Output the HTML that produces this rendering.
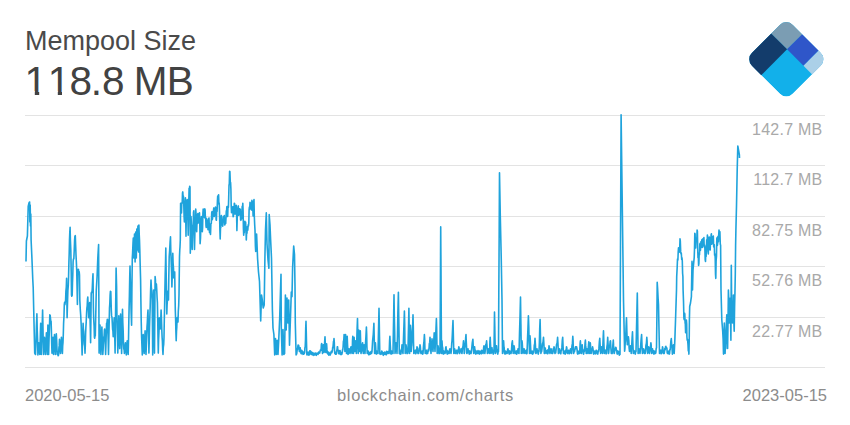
<!DOCTYPE html>
<html><head><meta charset="utf-8">
<style>
html,body{margin:0;padding:0;background:#fff;width:850px;height:425px;overflow:hidden;}
body{position:relative;font-family:"Liberation Sans",sans-serif;}
.t{position:absolute;white-space:nowrap;line-height:1;}
#title{left:25px;top:27.5px;font-size:27px;color:#4a4a4a;}
#value{left:24.5px;top:60.5px;font-size:40.5px;color:#424242;}
.yl{position:absolute;right:27.5px;font-size:16px;letter-spacing:0.25px;color:#a9a9a9;line-height:1;white-space:nowrap;}
.xl{position:absolute;top:386.5px;font-size:16.5px;color:#8c8c8c;line-height:1;white-space:nowrap;}
svg{position:absolute;left:0;top:0;}
</style></head><body>
<div class="t" id="title">Mempool Size</div>
<div class="t" id="value"><span style="margin-right:0.8px">1</span><span style="margin-right:-0.8px">1</span><span style="margin-right:-1.4px">8</span><span style="margin-right:0.1px">.</span><span style="margin-right:-2.2px">8</span> <span style="margin-right:-0.8px">M</span>B</div>
<svg width="850" height="425" viewBox="0 0 850 425">
<g stroke="#e3e3e3" stroke-width="1">
<line x1="25" x2="825" y1="115.5" y2="115.5"/>
<line x1="25" x2="825" y1="165.5" y2="165.5"/>
<line x1="25" x2="825" y1="216.5" y2="216.5"/>
<line x1="25" x2="825" y1="266.5" y2="266.5"/>
<line x1="25" x2="825" y1="317.5" y2="317.5"/>
<line x1="25" x2="825" y1="367.5" y2="367.5"/>
</g>
<path id="ln" d="M26.0 261.5 L26.4 241.0 L27.4 236.0 L28.2 206.5 L29.0 203.0 L29.6 202.0 L29.9 222.0 L30.2 205.0 L30.5 226.0 L30.8 214.0 L31.1 240.0 L31.9 257.6 L32.8 280.0 L33.2 287.5 L34.7 353.1 L35.5 354.5 L36.0 342.5 L36.4 325.9 L36.9 313.9 L37.2 329.1 L37.6 339.7 L37.9 354.9 L38.2 352.4 L38.5 345.3 L38.8 342.8 L39.1 348.2 L39.5 349.1 L39.8 354.5 L40.1 345.6 L40.4 332.2 L40.7 323.3 L41.0 340.4 L41.3 354.5 L41.7 338.2 L42.2 326.3 L42.6 310.0 L42.9 323.3 L43.2 341.2 L43.5 354.5 L43.8 347.3 L44.2 344.5 L44.5 337.3 L44.8 341.5 L45.1 350.3 L45.4 354.5 L45.7 345.7 L46.1 341.5 L46.4 332.7 L46.7 338.5 L47.0 348.7 L47.3 354.5 L47.6 338.2 L47.9 325.0 L48.2 341.2 L48.6 354.5 L49.0 339.8 L49.4 329.5 L49.8 314.8 L50.2 315.5 L50.7 320.7 L51.1 321.4 L51.4 330.5 L51.7 344.0 L52.0 353.1 L52.3 346.3 L52.7 344.1 L53.0 337.3 L53.5 354.5 L53.8 346.4 L54.2 342.7 L54.5 334.6 L54.8 339.7 L55.1 349.4 L55.4 354.5 L55.7 346.1 L56.0 342.1 L56.3 333.7 L56.6 339.1 L57.0 349.1 L57.3 354.5 L57.7 354.1 L58.2 355.8 L58.6 354.9 L58.9 348.2 L59.2 345.9 L59.5 339.2 L59.8 342.5 L60.2 350.2 L60.5 353.5 L60.8 346.6 L61.1 344.2 L61.4 337.3 L61.7 341.2 L62.1 349.6 L62.4 353.5 L62.7 345.7 L63.0 342.4 L63.3 334.6 L63.6 323.1 L64.0 316.0 L64.3 304.5 L64.6 302.4 L64.9 304.7 L65.2 302.6 L65.6 300.0 L65.9 291.3 L66.3 287.1 L66.6 278.4 L67.1 317.7 L67.6 300.0 L67.9 290.5 L68.3 285.5 L68.6 276.0 L68.9 262.5 L69.2 253.5 L69.5 240.0 L69.8 232.1 L70.1 227.2 L70.4 240.1 L70.8 250.0 L71.2 271.0 L71.5 295.0 L71.8 296.2 L72.2 295.3 L72.5 282.7 L72.8 274.6 L73.1 262.0 L73.4 259.0 L73.8 259.0 L74.2 251.0 L74.6 240.0 L74.9 236.3 L75.3 235.7 L75.7 246.8 L76.0 255.0 L76.3 260.8 L76.7 269.6 L77.1 288.6 L77.4 304.5 L77.9 272.0 L78.2 269.3 L78.5 269.6 L78.8 272.9 L79.2 271.7 L79.5 275.0 L79.8 300.0 L80.3 309.8 L80.7 315.2 L81.2 325.0 L81.5 336.5 L81.8 343.4 L82.1 354.9 L82.4 345.9 L82.8 332.3 L83.1 323.3 L83.4 329.5 L83.7 331.1 L84.0 337.3 L84.3 344.1 L84.7 346.3 L85.0 353.1 L85.3 345.9 L85.6 334.2 L85.9 327.0 L86.2 322.2 L86.6 312.8 L86.9 308.0 L87.2 305.8 L87.5 299.2 L87.8 297.0 L88.1 305.4 L88.4 309.3 L88.7 317.7 L89.0 314.2 L89.4 306.1 L89.7 302.6 L90.0 317.5 L90.3 327.9 L90.6 342.8 L90.9 319.4 L91.2 293.0 L91.6 292.1 L92.0 292.5 L92.3 287.7 L92.7 278.5 L93.0 273.7 L93.4 308.0 L93.7 319.3 L94.1 326.0 L94.4 337.3 L94.7 338.2 L95.0 335.4 L95.3 335.8 L95.6 322.0 L96.0 303.8 L96.3 290.0 L97.1 276.3 L97.8 258.2 L98.6 244.5 L99.1 353.1 L99.4 345.2 L99.7 332.9 L100.0 325.0 L100.3 336.3 L100.6 343.2 L100.9 354.5 L101.2 346.8 L101.6 334.7 L101.9 327.0 L102.2 337.7 L102.5 343.8 L102.8 354.5 L103.1 350.3 L103.5 341.5 L103.8 337.3 L104.1 336.0 L104.4 330.3 L104.7 329.0 L105.0 339.0 L105.3 344.5 L105.6 354.5 L105.9 345.6 L106.3 332.2 L106.6 323.3 L106.9 323.5 L107.3 319.3 L107.6 319.5 L107.9 332.7 L108.2 341.3 L108.5 354.5 L108.8 340.5 L109.2 322.0 L109.5 308.0 L109.8 303.9 L110.1 295.4 L110.4 291.3 L110.8 291.6 L111.3 310.0 L111.6 315.9 L112.0 317.4 L112.3 323.3 L112.6 329.3 L112.9 330.8 L113.2 336.8 L113.5 331.9 L113.9 322.6 L114.2 317.7 L114.5 331.0 L114.8 339.8 L115.1 353.1 L115.4 326.2 L115.8 294.9 L116.1 268.0 L116.6 287.0 L116.9 314.0 L117.2 328.5 L117.5 338.6 L117.8 353.1 L118.1 342.2 L118.5 326.7 L118.8 315.8 L119.1 328.2 L119.4 336.2 L119.7 348.6 L120.0 338.6 L120.3 324.0 L120.6 314.0 L120.9 328.7 L121.3 338.8 L121.6 353.5 L121.9 340.2 L122.2 322.5 L122.5 309.2 L122.8 322.6 L123.2 331.4 L123.5 344.8 L123.8 349.2 L124.1 349.1 L124.4 353.5 L124.7 351.4 L125.1 344.9 L125.4 342.8 L125.7 348.3 L126.0 349.4 L126.3 354.9 L126.6 351.7 L126.9 344.0 L127.2 340.8 L127.5 346.9 L127.9 348.4 L128.2 354.5 L128.5 340.6 L128.8 322.1 L129.1 308.2 L129.4 295.6 L129.7 278.6 L130.0 266.0 L130.3 278.8 L130.5 287.2 L130.8 300.0 L131.2 314.1 L131.6 325.2 L131.9 290.1 L132.3 258.0 L132.6 252.8 L133.0 243.2 L133.3 238.0 L133.8 258.0 L134.2 247.5 L134.5 234.0 L134.8 246.5 L135.1 262.0 L135.4 248.5 L135.7 232.0 L136.0 243.5 L136.3 258.0 L136.8 229.0 L137.1 241.0 L137.4 250.0 L137.9 226.0 L138.2 237.5 L138.5 252.0 L138.9 225.0 L139.2 234.0 L139.5 240.0 L139.8 249.5 L140.1 262.0 L140.6 280.0 L140.9 301.5 L141.2 320.0 L141.6 337.3 L141.9 344.6 L142.3 354.9 L142.6 349.6 L142.9 339.9 L143.2 334.6 L143.5 342.4 L143.9 345.7 L144.2 353.5 L144.5 347.4 L144.8 336.9 L145.1 330.8 L145.4 340.2 L145.7 345.1 L146.0 354.5 L146.3 346.8 L146.7 334.7 L147.0 327.0 L147.3 322.8 L147.7 314.2 L148.0 310.0 L148.3 325.9 L148.6 337.2 L148.9 353.1 L149.2 342.8 L149.5 328.0 L149.8 317.7 L150.2 306.6 L150.6 291.1 L151.0 280.0 L151.4 288.2 L151.8 291.8 L152.2 300.0 L152.7 354.9 L153.0 334.8 L153.3 310.1 L153.6 290.0 L153.9 312.5 L154.2 330.6 L154.5 353.1 L154.8 316.3 L155.1 276.5 L155.4 279.5 L155.7 287.0 L156.0 290.0 L156.4 284.0 L156.7 288.7 L157.1 297.9 L157.4 302.6 L157.7 317.9 L158.0 337.8 L158.3 353.1 L158.6 339.8 L159.0 331.0 L159.3 317.7 L159.6 320.0 L159.9 326.7 L160.2 329.0 L160.5 321.2 L160.8 317.8 L161.1 310.0 L161.4 317.6 L161.8 329.7 L162.1 337.3 L162.4 341.5 L162.7 350.3 L163.0 354.5 L163.3 347.3 L163.7 344.5 L164.0 337.3 L164.3 320.0 L164.6 307.3 L164.9 290.0 L165.2 274.5 L165.5 263.5 L165.8 248.0 L166.1 268.5 L166.5 293.5 L166.8 314.0 L167.1 304.9 L167.4 300.4 L167.7 291.3 L168.0 292.7 L168.2 298.6 L168.5 300.0 L168.8 276.8 L169.2 256.5 L169.6 251.4 L170.1 241.8 L170.5 236.7 L170.8 250.8 L171.2 262.0 L171.6 273.0 L171.9 287.0 L172.2 277.2 L172.5 263.0 L172.8 253.2 L173.1 263.0 L173.5 268.2 L173.8 278.0 L174.1 277.5 L174.4 272.5 L174.7 272.0 L175.0 292.5 L175.3 310.0 L175.6 318.8 L175.9 332.0 L176.2 340.8 L176.5 331.6 L176.8 326.9 L177.1 317.7 L177.4 317.6 L177.7 322.1 L178.0 322.0 L178.3 311.5 L178.7 305.5 L179.0 295.0 L179.5 256.5 L179.8 249.5 L180.0 247.0 L180.3 240.0 L180.6 203.3 L181.5 213.0 L181.8 202.8 L182.2 203.2 L182.5 193.0 L182.8 191.9 L183.1 198.1 L183.4 196.0 L183.7 201.2 L184.1 216.8 L184.4 222.0 L184.7 210.4 L185.1 209.3 L185.4 197.7 L185.7 213.5 L186.0 236.3 L186.3 216.5 L186.6 214.3 L186.9 201.7 L187.2 199.5 L187.5 214.9 L187.9 219.9 L188.2 235.3 L188.5 223.1 L188.8 200.4 L189.1 188.2 L189.4 190.3 L189.7 186.2 L190.0 187.3 L190.3 253.2 L190.7 238.3 L191.0 216.5 L191.4 224.0 L191.8 242.0 L192.2 249.5 L192.6 234.2 L192.9 226.0 L193.2 224.4 L193.5 212.4 L193.8 210.8 L194.2 233.7 L194.5 249.5 L194.9 232.5 L195.3 226.0 L195.7 209.0 L196.0 213.0 L196.4 227.6 L196.7 231.6 L197.0 222.4 L197.3 223.8 L197.6 214.6 L197.9 213.6 L198.2 223.0 L198.5 222.0 L198.8 215.4 L199.2 219.3 L199.5 212.7 L199.8 224.8 L200.1 243.8 L200.5 238.2 L201.0 222.1 L201.4 216.5 L201.7 225.0 L202.0 223.1 L202.3 231.6 L202.6 227.6 L202.9 213.0 L203.2 209.0 L203.5 214.8 L203.9 210.2 L204.2 216.0 L204.5 217.5 L204.8 208.9 L205.1 210.0 L205.4 218.8 L205.7 217.2 L206.0 226.0 L206.3 227.5 L206.7 218.9 L207.0 220.0 L207.3 226.7 L207.7 223.0 L208.0 229.7 L208.3 229.3 L208.7 218.4 L209.0 218.0 L209.5 232.5 L209.8 224.0 L210.2 232.7 L210.5 234.4 L210.9 223.7 L211.3 223.4 L211.7 212.7 L212.0 211.6 L212.3 219.7 L212.6 218.0 L212.9 211.5 L213.3 215.5 L213.6 209.0 L213.9 207.9 L214.2 216.5 L214.5 215.0 L214.8 208.8 L215.2 213.2 L215.5 207.0 L215.8 207.9 L216.1 219.4 L216.4 220.3 L216.7 210.5 L217.1 211.2 L217.4 201.4 L217.7 196.0 L218.0 201.2 L218.3 195.8 L218.6 194.8 L218.9 204.1 L219.2 203.0 L219.5 211.5 L219.9 230.5 L220.2 239.0 L220.5 228.0 L220.8 227.5 L221.1 216.5 L221.4 215.5 L221.7 225.0 L222.0 224.0 L222.3 220.9 L222.7 226.1 L223.0 222.0 L223.3 216.7 L223.7 221.8 L224.0 216.5 L224.3 215.5 L224.7 225.0 L225.0 224.0 L225.3 218.5 L225.7 223.5 L226.0 218.0 L226.3 210.8 L226.5 214.2 L226.8 207.0 L227.1 206.5 L227.4 216.5 L227.7 216.0 L228.0 206.4 L228.4 207.3 L228.7 197.7 L229.0 185.4 L229.3 183.6 L229.6 171.3 L229.9 171.6 L230.3 182.3 L230.6 182.6 L230.9 189.1 L231.2 206.2 L231.5 212.7 L231.8 207.3 L232.2 212.4 L232.5 207.0 L232.8 206.7 L233.1 216.8 L233.4 216.5 L233.7 208.6 L234.0 211.2 L234.3 203.3 L234.6 203.4 L234.9 213.9 L235.2 214.0 L235.5 207.6 L235.9 211.6 L236.2 205.2 L236.6 214.4 L236.9 230.6 L237.3 216.0 L237.7 215.0 L238.0 207.0 L238.3 205.9 L238.7 215.2 L239.0 214.0 L239.3 208.8 L239.7 214.2 L240.0 209.0 L240.3 209.3 L240.6 220.0 L240.9 220.3 L241.2 214.4 L241.6 218.9 L241.9 213.0 L242.2 206.3 L242.5 210.0 L242.8 203.3 L243.1 210.5 L243.4 228.1 L243.7 235.3 L244.0 228.7 L244.3 232.6 L244.6 226.0 L244.9 221.2 L245.3 226.8 L245.6 222.0 L245.9 227.5 L246.3 240.0 L246.7 231.0 L247.0 233.1 L247.2 226.9 L247.5 228.0 L247.8 230.1 L248.2 224.9 L248.5 226.0 L248.8 223.2 L249.1 209.8 L249.4 207.0 L249.7 209.1 L250.0 202.2 L250.3 203.3 L250.6 208.7 L250.9 203.6 L251.2 209.0 L251.5 210.0 L251.9 200.4 L252.2 201.4 L252.5 209.8 L252.8 207.6 L253.1 216.0 L253.4 214.0 L253.7 201.5 L254.0 199.5 L254.3 215.8 L254.7 225.0 L255.0 230.3 L255.4 246.1 L255.7 251.4 L256.6 234.0 L257.6 259.0 L258.5 272.0 L259.5 281.5 L260.7 321.0 L261.5 295.0 L262.3 300.0 L263.2 308.0 L264.2 305.0 L264.9 258.2 L265.5 230.0 L266.3 212.7 L267.0 243.8 L268.0 260.0 L268.9 268.3 L269.2 214.6 L270.0 225.0 L270.6 239.4 L271.5 258.2 L272.4 310.0 L273.0 328.0 L273.9 334.5 L274.7 354.9 L275.5 338.6 L276.4 354.5 L277.2 340.2 L278.0 354.5 L278.8 338.6 L279.7 318.0 L280.5 290.0 L281.0 274.3 L281.3 328.0 L282.1 354.9 L283.0 329.5 L283.8 354.5 L284.6 353.5 L285.4 295.0 L286.2 330.0 L287.0 298.0 L287.9 323.0 L288.7 300.0 L289.5 345.2 L290.4 319.7 L291.3 292.0 L292.0 296.6 L292.6 267.7 L293.7 246.0 L294.5 254.5 L295.0 286.5 L295.3 323.0 L296.1 354.9 L296.4 352.5 L296.7 353.9 L297.0 351.5 L297.3 348.6 L297.5 349.7 L297.8 346.8 L298.1 345.0 L298.3 347.0 L298.6 345.2 L299.0 347.1 L299.4 351.5 L299.7 351.6 L299.9 347.7 L300.2 347.8 L300.5 351.0 L300.7 350.3 L301.0 353.5 L301.3 353.8 L301.6 350.2 L301.9 350.5 L302.2 352.8 L302.4 351.2 L302.7 353.5 L303.0 354.3 L303.2 352.1 L303.5 352.5 L303.8 354.1 L304.0 352.1 L304.3 353.5 L304.6 352.6 L304.9 347.7 L305.2 346.8 L305.5 339.6 L305.7 328.5 L306.0 321.3 L306.3 333.5 L306.5 341.9 L306.8 354.1 L307.1 354.9 L307.4 352.1 L307.7 352.5 L308.0 354.1 L308.2 352.1 L308.5 353.5 L308.8 355.1 L309.0 353.1 L309.3 354.5 L309.6 354.6 L309.8 350.7 L310.1 350.8 L310.4 353.0 L310.7 351.3 L311.0 353.5 L311.3 354.3 L311.5 352.1 L311.8 352.5 L312.1 354.5 L312.3 352.5 L312.6 354.5 L313.2 355.3 L313.7 353.1 L314.3 353.5 L314.8 355.1 L315.4 353.1 L315.9 354.5 L316.4 355.3 L317.0 353.1 L317.5 353.5 L318.1 354.3 L318.6 352.1 L319.2 352.5 L319.7 353.1 L320.3 350.1 L320.8 350.5 L321.1 349.5 L321.4 344.5 L321.7 343.5 L322.0 348.1 L322.2 348.9 L322.5 353.5 L322.8 351.9 L323.0 346.4 L323.3 344.8 L323.6 348.7 L323.8 348.6 L324.1 352.5 L324.4 348.6 L324.7 340.7 L325.0 336.8 L325.3 343.3 L325.5 346.0 L325.8 352.5 L326.1 350.9 L326.3 345.4 L326.6 343.8 L327.0 349.9 L327.4 353.5 L327.7 352.1 L328.0 354.1 L328.3 352.5 L328.6 352.1 L328.8 355.1 L329.1 354.5 L329.6 353.1 L330.2 355.1 L330.7 353.5 L331.3 351.2 L331.8 352.8 L332.4 350.5 L332.7 347.3 L332.9 348.0 L333.2 344.8 L333.5 341.4 L333.7 342.0 L334.0 338.6 L334.3 342.3 L334.5 349.8 L334.8 353.5 L335.1 352.1 L335.4 354.1 L335.7 352.5 L336.0 352.1 L336.2 354.3 L336.5 353.5 L336.8 350.0 L337.0 350.3 L337.3 346.8 L337.6 346.7 L337.8 350.6 L338.1 350.5 L338.4 350.2 L338.7 353.8 L339.0 353.5 L339.3 351.2 L339.5 352.8 L339.8 350.5 L340.1 350.5 L340.3 354.5 L340.6 354.5 L341.2 352.5 L341.7 354.5 L342.3 352.5 L342.6 349.3 L342.8 350.0 L343.1 346.8 L343.4 341.4 L343.8 340.0 L344.1 334.6 L344.5 341.8 L344.9 351.5 L345.2 344.4 L345.6 334.6 L345.9 339.6 L346.2 348.5 L346.5 353.5 L346.9 343.7 L347.2 336.4 L347.5 343.7 L347.7 347.2 L348.0 354.5 L348.3 353.9 L348.7 349.4 L349.0 348.8 L349.3 351.7 L349.7 350.6 L350.0 353.5 L350.3 352.6 L350.7 347.7 L351.0 346.8 L351.3 350.3 L351.7 350.0 L352.0 353.5 L352.3 349.1 L352.5 340.8 L352.8 336.4 L353.1 346.3 L353.5 353.5 L353.8 344.1 L354.1 337.3 L354.5 345.7 L354.8 351.5 L355.1 344.8 L355.4 340.8 L355.7 346.3 L356.0 348.0 L356.3 353.5 L356.7 343.2 L357.1 328.9 L357.5 318.6 L357.9 337.4 L358.2 353.5 L358.5 340.4 L358.8 330.0 L359.1 338.5 L359.3 343.0 L359.6 351.5 L360.0 342.4 L360.3 330.8 L360.6 340.8 L361.0 353.5 L361.5 351.2 L362.1 345.1 L362.6 342.8 L363.0 349.4 L363.3 353.5 L363.6 349.3 L363.8 349.0 L364.1 344.8 L364.4 346.4 L364.7 351.9 L365.0 353.5 L365.5 343.4 L365.9 337.1 L366.4 327.0 L366.7 334.5 L366.9 346.0 L367.2 353.5 L367.5 351.5 L367.7 353.5 L368.0 351.5 L368.4 351.2 L368.8 354.8 L369.2 354.5 L369.6 353.0 L369.9 352.6 L370.2 354.3 L370.5 353.5 L371.0 351.5 L371.5 353.5 L372.0 351.5 L372.6 340.8 L373.3 334.0 L373.9 323.3 L374.2 337.1 L374.6 353.5 L375.0 349.4 L375.4 342.8 L375.7 346.8 L376.0 353.5 L376.3 354.1 L376.7 351.1 L377.0 351.5 L377.3 353.5 L377.7 351.5 L378.0 353.5 L378.3 339.7 L378.7 322.0 L379.0 308.2 L379.3 324.6 L379.5 337.1 L379.8 353.5 L380.2 354.3 L380.6 353.1 L381.0 353.5 L381.3 354.1 L381.7 351.1 L382.0 351.5 L382.3 353.8 L382.7 352.2 L383.0 354.5 L383.3 355.3 L383.7 353.1 L384.0 353.5 L384.3 354.3 L384.7 352.1 L385.0 352.5 L385.3 354.5 L385.7 352.5 L386.0 354.5 L386.3 354.8 L386.7 351.2 L387.0 351.5 L387.7 353.5 L388.3 351.5 L389.0 353.5 L389.3 349.1 L389.6 340.8 L389.9 336.4 L390.2 343.4 L390.4 346.5 L390.7 353.5 L391.1 354.1 L391.6 351.1 L392.0 351.5 L392.3 353.5 L392.7 351.5 L393.0 353.5 L393.3 335.2 L393.7 313.0 L394.0 294.7 L394.3 315.6 L394.7 332.6 L395.0 353.5 L395.3 351.2 L395.7 345.1 L396.0 342.8 L396.3 347.7 L396.7 348.6 L397.0 353.5 L397.5 334.4 L397.9 311.3 L398.4 292.2 L398.7 313.9 L399.0 331.8 L399.3 353.5 L399.6 353.8 L400.0 351.5 L400.3 351.1 L400.7 354.1 L401.0 353.5 L401.3 349.3 L401.7 349.0 L402.0 344.8 L402.3 346.4 L402.7 351.9 L403.0 353.5 L403.5 338.0 L403.9 326.5 L404.4 311.0 L404.7 323.9 L404.9 340.6 L405.2 353.5 L405.5 349.3 L405.7 349.0 L406.0 344.8 L406.3 346.4 L406.7 351.9 L407.0 353.5 L407.3 351.5 L407.7 353.5 L408.0 351.5 L408.3 335.8 L408.6 323.9 L408.9 308.2 L409.2 329.6 L409.6 353.5 L410.0 340.7 L410.4 325.2 L410.7 332.7 L410.9 344.0 L411.2 351.5 L411.5 346.6 L411.7 345.7 L412.0 340.8 L412.3 330.8 L412.7 324.8 L413.0 314.8 L413.3 326.4 L413.5 341.9 L413.8 353.5 L414.2 351.2 L414.6 352.8 L415.0 350.5 L415.3 350.2 L415.7 353.8 L416.0 353.5 L416.3 350.0 L416.7 350.3 L417.0 346.8 L417.3 347.7 L417.7 352.6 L418.0 353.5 L418.3 351.5 L418.7 353.5 L419.0 351.5 L419.3 348.0 L419.7 348.3 L420.0 344.8 L420.3 346.4 L420.7 351.9 L421.0 353.5 L421.3 351.5 L421.7 353.5 L422.0 351.5 L422.3 351.1 L422.7 354.1 L423.0 353.5 L423.5 345.9 L423.9 342.2 L424.4 334.6 L424.7 339.6 L424.9 348.5 L425.2 353.5 L425.5 351.2 L425.7 352.8 L426.0 350.5 L426.3 350.2 L426.7 353.8 L427.0 353.5 L427.3 351.5 L427.7 353.5 L428.0 351.5 L428.3 349.3 L428.7 351.0 L429.0 348.8 L429.3 343.7 L429.7 342.4 L430.0 337.3 L430.3 341.4 L430.7 349.4 L431.0 353.5 L431.3 347.3 L431.7 345.0 L432.0 338.8 L432.3 341.7 L432.7 348.6 L433.0 351.5 L433.4 343.9 L433.8 340.3 L434.2 332.7 L434.5 337.7 L434.7 346.5 L435.0 351.5 L435.5 339.2 L435.9 330.9 L436.4 318.6 L436.7 328.9 L436.9 343.2 L437.2 353.5 L437.5 349.6 L437.7 349.7 L438.0 345.8 L438.3 347.1 L438.7 352.2 L439.0 353.5 L439.3 351.5 L439.7 353.5 L440.0 351.5 L440.4 287.9 L440.7 226.9 L441.0 270.4 L441.2 310.0 L441.5 353.5 L442.0 340.8 L442.3 346.3 L442.7 348.0 L443.0 353.5 L443.3 354.1 L443.7 351.1 L444.0 351.5 L444.3 353.5 L444.7 351.5 L445.0 353.5 L445.3 352.6 L445.7 347.7 L446.0 346.8 L446.3 350.3 L446.7 350.0 L447.0 353.5 L447.3 354.1 L447.7 351.1 L448.0 351.5 L448.3 353.5 L448.7 351.5 L449.0 353.5 L449.3 353.2 L449.7 349.1 L450.0 348.8 L450.3 351.7 L450.7 350.6 L451.0 353.5 L451.3 350.6 L451.7 343.7 L452.0 340.8 L452.3 335.3 L452.7 326.0 L453.0 320.5 L453.3 332.8 L453.5 341.2 L453.8 353.5 L454.1 352.4 L454.5 348.8 L454.8 349.1 L455.2 353.2 L455.5 353.5 L455.8 351.2 L456.2 352.8 L456.5 350.5 L456.8 350.2 L457.2 353.8 L457.5 353.5 L457.9 350.0 L458.4 350.3 L458.8 346.8 L459.1 347.7 L459.3 352.6 L459.6 353.5 L460.1 350.6 L460.5 351.7 L461.0 348.8 L461.3 349.1 L461.7 353.2 L462.0 353.5 L462.5 348.0 L463.0 346.3 L463.5 340.8 L463.9 345.8 L464.2 353.5 L464.5 352.6 L464.7 347.7 L465.0 346.8 L465.3 344.0 L465.7 337.4 L466.0 334.6 L466.3 342.2 L466.5 345.9 L466.8 353.5 L467.2 353.2 L467.6 349.1 L468.0 348.8 L468.3 351.7 L468.7 350.6 L469.0 353.5 L469.3 354.1 L469.7 351.1 L470.0 351.5 L470.3 353.5 L470.7 351.5 L471.0 353.5 L471.6 350.0 L472.3 342.7 L472.9 339.2 L473.2 345.3 L473.4 347.4 L473.7 353.5 L474.0 352.6 L474.3 347.7 L474.6 346.8 L474.9 350.3 L475.2 350.0 L475.5 353.5 L475.8 354.1 L476.2 351.1 L476.5 351.5 L476.9 353.5 L477.2 351.5 L477.6 353.5 L478.0 350.5 L478.3 352.8 L478.7 351.2 L479.0 353.5 L479.3 354.1 L479.7 351.1 L480.0 351.5 L480.3 353.5 L480.7 351.5 L481.0 353.5 L481.3 353.8 L481.7 350.2 L482.0 350.5 L482.3 352.8 L482.7 351.2 L483.0 353.5 L483.3 352.2 L483.7 347.1 L484.0 345.8 L484.3 349.7 L484.5 349.6 L484.8 353.5 L485.1 351.9 L485.5 347.8 L485.9 344.2 L486.2 344.4 L486.6 340.8 L487.0 345.8 L487.4 353.5 L487.7 353.2 L488.1 349.1 L488.4 348.8 L488.7 351.7 L489.1 350.6 L489.4 353.5 L489.7 349.4 L489.9 341.4 L490.2 337.3 L490.5 344.0 L490.7 346.8 L491.0 353.5 L491.3 352.9 L491.7 348.4 L492.0 347.8 L492.3 351.0 L492.7 350.3 L493.0 353.5 L493.3 354.1 L493.7 351.1 L494.0 351.5 L494.5 312.0 L494.8 327.1 L495.0 338.4 L495.3 353.5 L495.7 352.2 L496.1 347.1 L496.5 345.8 L496.8 349.7 L497.2 349.6 L497.5 353.5 L497.8 354.1 L498.2 351.1 L498.5 351.5 L498.8 293.2 L499.2 231.1 L499.5 172.8 L500.3 216.5 L501.2 256.3 L502.0 300.0 L502.5 353.5 L502.9 350.6 L503.2 343.7 L503.6 340.8 L503.9 346.3 L504.2 348.0 L504.5 353.5 L505.0 354.1 L505.5 351.1 L506.0 351.5 L506.3 353.5 L506.7 351.5 L507.0 353.5 L507.3 353.2 L507.7 349.1 L508.0 348.8 L508.3 351.7 L508.7 350.6 L509.0 353.5 L509.3 354.1 L509.7 351.1 L510.0 351.5 L510.3 353.5 L510.7 351.5 L511.0 353.5 L511.5 350.6 L511.9 343.7 L512.4 340.8 L512.7 346.3 L512.9 348.0 L513.2 353.5 L513.6 350.9 L514.0 345.8 L514.3 347.1 L514.7 352.2 L515.0 353.5 L515.3 351.5 L515.7 353.5 L516.0 351.5 L516.3 351.1 L516.7 354.1 L517.0 353.5 L517.3 350.6 L517.7 351.7 L518.0 348.8 L518.3 349.1 L518.7 353.2 L519.0 353.5 L519.5 333.4 L520.0 317.1 L520.5 297.0 L520.9 323.9 L521.3 353.5 L521.6 348.4 L522.0 340.8 L522.3 343.7 L522.7 350.6 L523.0 353.5 L523.3 350.6 L523.7 351.7 L524.0 348.8 L524.3 349.1 L524.7 353.2 L525.0 353.5 L525.3 351.2 L525.7 352.8 L526.0 350.5 L526.3 350.2 L526.7 353.8 L527.0 353.5 L527.5 339.6 L527.9 329.7 L528.4 315.8 L528.8 327.1 L529.1 342.2 L529.5 353.5 L530.0 335.8 L530.3 340.4 L530.7 348.9 L531.0 353.5 L531.3 351.5 L531.7 353.5 L532.0 351.5 L532.3 351.1 L532.7 354.1 L533.0 353.5 L533.3 351.2 L533.7 352.8 L534.0 350.5 L534.3 345.1 L534.7 343.6 L535.0 338.2 L535.4 344.6 L535.8 353.5 L536.2 353.2 L536.6 349.1 L537.0 348.8 L537.3 351.7 L537.7 350.6 L538.0 353.5 L538.3 354.1 L538.7 351.1 L539.0 351.5 L539.4 342.1 L539.7 328.9 L540.1 319.5 L540.5 337.8 L540.9 353.5 L541.3 350.6 L541.6 351.7 L542.0 348.8 L542.5 343.7 L543.0 342.4 L543.5 337.3 L543.9 344.1 L544.3 353.5 L544.6 351.9 L545.0 347.8 L545.3 348.4 L545.7 352.9 L546.0 353.5 L546.3 351.2 L546.7 352.8 L547.0 350.5 L547.3 350.2 L547.7 353.8 L548.0 353.5 L548.3 349.6 L548.7 349.7 L549.0 345.8 L549.3 347.1 L549.7 352.2 L550.0 353.5 L550.3 350.6 L550.7 351.7 L551.0 348.8 L551.3 349.1 L551.7 353.2 L552.0 353.5 L552.3 351.5 L552.7 353.5 L553.0 351.5 L553.3 348.6 L553.7 349.7 L554.0 346.8 L554.3 347.7 L554.7 352.6 L555.0 353.5 L555.3 351.2 L555.7 352.8 L556.0 350.5 L556.5 344.8 L557.1 343.0 L557.6 337.3 L558.0 344.1 L558.4 353.5 L558.8 353.2 L559.1 349.1 L559.5 348.8 L559.8 351.7 L560.2 350.6 L560.5 353.5 L560.8 353.8 L561.2 350.2 L561.5 350.5 L561.9 347.4 L562.3 340.4 L562.7 337.3 L563.1 346.7 L563.5 353.5 L563.8 351.5 L564.2 353.5 L564.5 351.5 L564.8 351.1 L565.2 354.1 L565.5 353.5 L565.8 350.0 L566.2 350.3 L566.5 346.8 L566.8 347.7 L567.2 352.6 L567.5 353.5 L567.8 351.2 L568.2 352.8 L568.5 350.5 L568.8 350.2 L569.2 353.8 L569.5 353.5 L569.8 350.6 L570.2 351.7 L570.5 348.8 L570.8 349.1 L571.2 353.2 L571.5 353.5 L571.9 346.5 L572.4 343.4 L572.8 336.4 L573.1 340.8 L573.3 349.1 L573.6 353.5 L574.1 350.6 L574.5 351.7 L575.0 348.8 L575.5 346.8 L576.1 348.8 L576.6 346.8 L577.0 348.8 L577.4 353.5 L577.8 354.1 L578.1 351.1 L578.5 351.5 L578.8 353.5 L579.2 351.5 L579.5 353.5 L579.8 350.6 L580.1 343.7 L580.4 340.8 L580.7 346.3 L580.9 348.0 L581.2 353.5 L581.5 351.9 L581.9 346.4 L582.2 344.8 L582.5 349.0 L582.9 349.3 L583.2 353.5 L583.6 354.1 L584.0 351.1 L584.4 351.5 L584.7 349.0 L585.1 342.6 L585.4 340.1 L585.7 345.9 L585.9 347.7 L586.2 353.5 L586.6 352.4 L587.0 348.8 L587.3 349.1 L587.7 353.2 L588.0 353.5 L588.4 346.3 L588.8 341.8 L589.1 347.0 L589.3 348.3 L589.6 353.5 L590.0 349.4 L590.3 342.8 L590.6 346.8 L591.0 353.5 L591.3 353.2 L591.7 349.1 L592.0 348.8 L592.3 349.1 L592.6 346.8 L593.0 348.8 L593.4 353.5 L593.7 354.1 L594.1 351.1 L594.4 351.5 L594.7 353.5 L595.1 351.5 L595.4 353.5 L595.8 353.8 L596.1 350.2 L596.5 350.5 L596.8 352.8 L597.2 351.2 L597.5 353.5 L597.8 354.1 L598.2 351.1 L598.5 351.5 L598.9 348.4 L599.4 341.3 L599.8 338.2 L600.1 344.6 L600.3 347.1 L600.6 353.5 L600.9 352.6 L601.2 347.7 L601.5 346.8 L601.8 350.3 L602.2 350.0 L602.5 353.5 L602.8 347.2 L603.2 337.1 L603.5 330.8 L603.9 343.4 L604.3 353.5 L604.6 351.2 L605.0 352.8 L605.3 350.5 L605.7 350.2 L606.1 353.8 L606.5 353.5 L606.9 346.8 L607.3 344.0 L607.7 337.3 L608.1 344.1 L608.5 353.5 L608.8 352.2 L609.2 347.1 L609.5 345.8 L609.8 345.4 L610.2 341.2 L610.5 340.8 L610.9 348.4 L611.3 353.5 L611.7 351.5 L612.1 353.5 L612.5 351.5 L612.9 344.5 L613.3 340.1 L613.6 345.9 L613.8 347.7 L614.1 353.5 L614.4 353.2 L614.7 349.1 L615.0 348.8 L615.4 349.6 L615.7 347.4 L616.1 347.8 L616.4 351.0 L616.7 350.3 L617.0 353.5 L617.3 354.1 L617.7 351.1 L618.0 351.5 L618.3 353.5 L618.7 351.5 L619.0 353.5 L619.3 355.1 L619.7 353.1 L620.0 354.5 L621.1 114.8 L623.5 300.0 L624.6 351.2 L624.9 349.0 L625.2 343.0 L625.5 340.8 L625.8 334.4 L626.2 324.1 L626.5 317.7 L626.9 332.6 L627.3 344.8 L627.7 340.8 L628.0 340.8 L628.4 336.8 L628.8 340.4 L629.1 347.9 L629.5 351.5 L629.8 348.3 L630.2 349.0 L630.5 345.8 L630.9 348.3 L631.2 353.5 L631.6 347.6 L632.1 337.7 L632.5 331.8 L632.9 343.9 L633.3 353.5 L633.6 350.7 L634.0 350.5 L634.3 352.8 L634.7 351.2 L635.0 353.5 L635.3 354.1 L635.7 351.1 L636.0 351.5 L636.4 333.3 L636.9 311.2 L637.3 293.0 L637.6 314.5 L637.8 332.0 L638.1 353.5 L638.4 353.2 L638.7 349.1 L639.0 348.8 L639.3 351.7 L639.7 350.6 L640.0 353.5 L640.5 348.5 L641.1 339.6 L641.6 334.6 L642.0 345.4 L642.4 353.5 L642.7 350.6 L643.1 351.7 L643.4 348.8 L643.8 349.1 L644.1 353.2 L644.5 353.5 L644.8 351.5 L645.2 353.5 L645.5 351.5 L645.9 345.5 L646.4 343.3 L646.8 337.3 L647.1 341.4 L647.3 349.4 L647.6 353.5 L647.9 350.0 L648.3 350.3 L648.6 346.8 L648.9 347.7 L649.2 352.6 L649.5 353.5 L650.0 348.6 L650.4 347.7 L650.9 342.8 L651.2 345.1 L651.4 351.2 L651.7 353.5 L652.1 349.8 L652.5 348.8 L652.8 351.7 L653.2 350.6 L653.5 353.5 L653.9 354.1 L654.2 351.1 L654.6 351.5 L654.9 353.5 L655.2 351.5 L655.5 353.5 L655.8 352.9 L656.2 348.4 L656.5 347.8 L656.9 316.4 L657.2 282.3 L657.6 288.4 L658.1 298.4 L658.5 304.5 L658.8 319.5 L659.2 338.5 L659.5 353.5 L659.8 351.2 L660.2 352.8 L660.5 350.5 L660.8 350.2 L661.2 353.8 L661.5 353.5 L661.8 350.0 L662.2 350.3 L662.5 346.8 L662.8 347.7 L663.2 352.6 L663.5 353.5 L663.8 351.5 L664.2 353.5 L664.5 351.5 L664.8 348.6 L665.2 349.7 L665.5 346.8 L665.9 346.4 L666.2 348.4 L666.6 347.6 L666.9 348.3 L667.2 352.8 L667.5 353.5 L667.8 351.5 L668.1 353.5 L668.4 351.5 L668.8 351.1 L669.2 354.1 L669.6 353.5 L669.9 349.6 L670.2 349.7 L670.5 345.8 L670.9 340.9 L671.3 338.6 L671.7 345.1 L672.0 347.6 L672.4 354.1 L672.7 352.3 L673.1 346.6 L673.4 344.8 L673.7 349.0 L673.9 349.3 L674.2 353.5 L674.5 347.4 L674.9 338.6 L675.2 329.3 L675.4 324.0 L675.7 314.7 L676.5 290.0 L676.7 276.5 L677.2 267.0 L677.5 259.0 L677.9 260.0 L678.2 252.0 L678.5 247.7 L678.8 252.5 L679.1 248.2 L679.6 252.0 L680.0 238.8 L680.3 240.8 L680.7 251.9 L681.0 253.9 L681.3 253.0 L681.7 259.4 L682.0 257.7 L682.3 261.0 L682.6 273.2 L682.9 276.5 L683.1 290.0 L683.5 301.0 L683.9 318.0 L684.2 319.7 L684.5 313.1 L684.8 314.0 L685.1 323.3 L685.3 323.5 L685.6 332.8 L686.0 329.4 L686.4 320.0 L686.7 323.7 L686.9 336.5 L687.2 340.2 L687.6 339.5 L688.0 344.8 L688.3 350.9 L688.6 348.0 L688.9 354.1 L689.2 341.2 L689.4 319.4 L689.7 306.5 L690.5 303.0 L691.4 296.6 L692.0 261.4 L692.5 290.0 L693.0 270.0 L694.2 257.7 L694.5 249.4 L694.8 233.2 L695.1 234.1 L695.4 247.1 L695.7 248.0 L696.1 239.0 L696.5 238.0 L696.8 239.8 L697.1 230.1 L697.4 231.3 L697.7 248.5 L698.0 257.7 L698.3 256.5 L698.6 265.4 L698.9 263.3 L699.2 253.0 L699.5 254.8 L699.8 244.5 L700.1 243.3 L700.4 250.4 L700.7 248.0 L701.0 241.6 L701.4 247.1 L701.7 240.7 L702.0 239.5 L702.3 247.4 L702.6 245.0 L702.9 238.9 L703.3 244.9 L703.6 238.8 L703.9 237.6 L704.2 246.9 L704.5 245.0 L704.8 246.5 L705.2 259.9 L705.5 261.4 L705.8 252.9 L706.1 256.5 L706.4 248.0 L706.7 239.7 L707.1 243.3 L707.4 235.0 L707.7 237.3 L708.0 251.6 L708.3 253.9 L708.6 244.3 L709.0 246.6 L709.3 237.0 L709.6 237.3 L709.9 249.7 L710.2 250.0 L710.5 241.0 L710.8 244.0 L711.1 235.0 L711.4 233.8 L711.7 244.3 L712.0 243.0 L712.3 237.0 L712.7 243.0 L713.0 237.0 L713.3 236.0 L713.7 247.0 L714.0 246.0 L714.3 244.8 L714.6 255.3 L714.9 253.9 L715.2 258.1 L715.5 274.2 L715.8 278.4 L716.1 261.2 L716.5 256.0 L716.8 238.8 L717.1 237.6 L717.4 245.4 L717.7 243.0 L718.0 236.3 L718.4 241.7 L718.7 235.0 L719.0 230.1 L719.3 236.5 L719.6 231.3 L719.9 231.9 L720.3 244.4 L720.6 245.0 L721.0 290.0 L721.8 319.7 L722.7 331.2 L723.1 338.6 L723.5 354.1 L723.9 342.6 L724.3 323.0 L724.6 329.2 L724.8 347.3 L725.1 353.5 L725.4 345.1 L725.7 348.6 L726.0 340.2 L726.4 323.4 L726.8 314.7 L727.1 330.0 L727.3 333.2 L727.6 348.5 L728.0 323.2 L728.4 290.0 L728.7 297.0 L728.9 316.0 L729.2 323.0 L729.6 306.6 L730.0 298.2 L730.3 316.2 L730.6 322.2 L730.9 340.2 L731.3 265.2 L731.7 306.5 L732.1 318.8 L732.5 323.0 L732.8 309.7 L733.1 308.3 L733.4 295.0 L733.7 303.1 L733.9 323.1 L734.2 331.2 L734.6 306.6 L735.0 290.0 L735.3 274.0 L735.6 246.0 L735.9 230.0 L736.5 206.0 L737.2 170.0 L737.8 146.0 L739.4 155.0 L739.5 158.0" fill="none" stroke="#1fa3dc" stroke-width="1.6" stroke-linejoin="round"/>
<g fill="#fff"><rect x="25" y="91.2" width="9.8" height="4.5"/><rect x="39.2" y="91.2" width="18.6" height="4.5"/><rect x="62" y="91.2" width="8.2" height="4.5"/></g>
<g transform="translate(786.3,59.2) rotate(45)">
<clipPath id="cl"><rect x="-29" y="-29" width="58" height="58" rx="9.5"/></clipPath>
<g clip-path="url(#cl)">
<rect x="-29" y="-29" width="58" height="58" fill="#12b0ea"/>
<rect x="-29" y="-29" width="22.6" height="21.5" fill="#7b9db3"/>
<rect x="-29" y="-7.5" width="22.6" height="37" fill="#133c6b"/>
<rect x="-6.4" y="-29" width="23.2" height="21.5" fill="#2f56c9"/>
<rect x="16.8" y="-29" width="13" height="21.5" fill="#abd0e8"/>
</g>
</g>
</svg>
<div class="yl" style="top:121.7px">142.7 MB</div>
<div class="yl" style="top:171.9px">112.7 MB</div>
<div class="yl" style="top:222.7px">82.75 MB</div>
<div class="yl" style="top:272.9px">52.76 MB</div>
<div class="yl" style="top:323.6px">22.77 MB</div>
<div class="xl" style="left:25px">2020-05-15</div>
<div class="xl" style="left:337px;letter-spacing:0.65px">blockchain.com/charts</div>
<div class="xl" style="right:23px">2023-05-15</div>
</body></html>
